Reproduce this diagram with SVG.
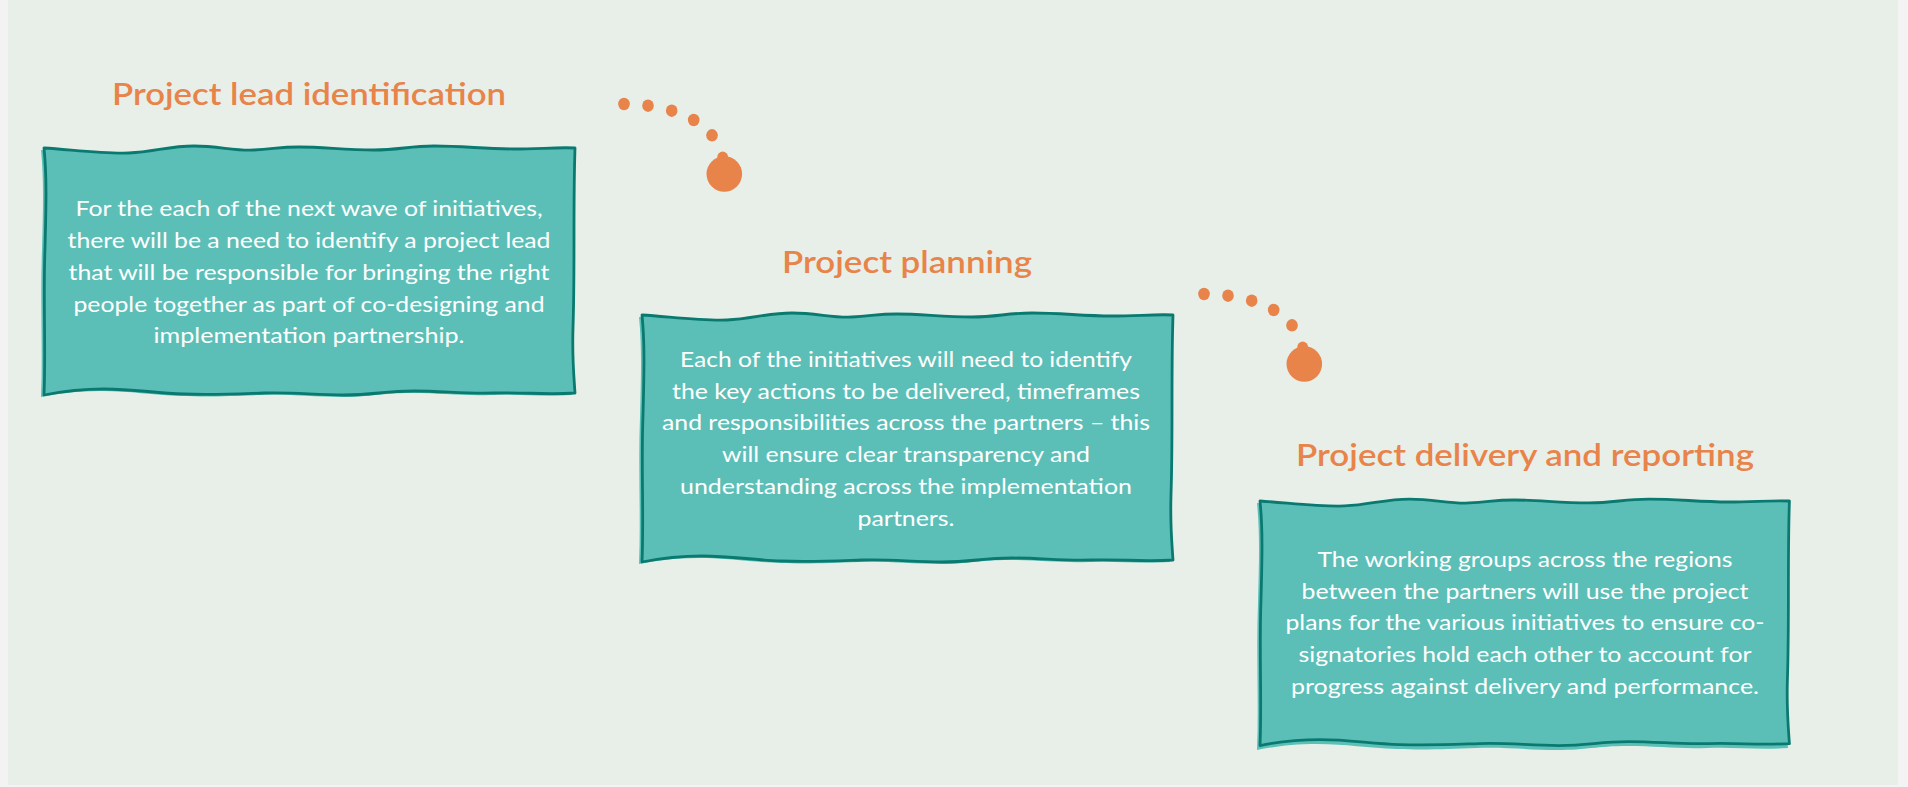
<svg xmlns="http://www.w3.org/2000/svg" xmlns:xlink="http://www.w3.org/1999/xlink" width="1908" height="787" viewBox="0 0 1908 787">
  <style>
    .title { font-family: Lato, "Open Sans", "Liberation Sans", sans-serif; font-size: 31px; font-weight: 600; fill: #e8834a; text-anchor: middle; }
    .body { font-family: Lato, "Open Sans", "Liberation Sans", sans-serif; font-size: 21px; font-weight: 400; fill: #ffffff; text-anchor: middle; }
    .boxfill { fill: #5dc0b8; }
    .boxline { fill: #5cbfb7; stroke: #0a7a70; stroke-width: 2.8; stroke-linejoin: round; }
    .dot { fill: #e8834a; }
  </style>
  <defs>
    <path id="wavy" d="M0,0 C30,2 60,6 85,5 C110,4 125,-2 150,-2 C175,-2 190,3 210,2 C230,1 235,-1 255,-1 C280,-1 300,2 330,2 C355,2 365,-2 390,-2 C420,-2 440,1 470,1 C495,1 515,-1 531,0 C529,60 531,120 529,180 C528,210 530,230 531,245 C500,247 480,244 450,245 C420,246 400,243 370,243 C340,243 330,247 300,247 C270,247 250,244 220,245 C190,246 170,247 140,246 C110,245 90,241 60,241 C35,241 15,244 0,247 C2,200 -1,150 1,100 C2,60 3,30 0,0 Z"/>
    <g id="dotchain">
      <ellipse class="dot" cx="624" cy="104" rx="5.8" ry="6.2"/>
      <ellipse class="dot" cx="648" cy="105.7" rx="5.8" ry="6.2"/>
      <ellipse class="dot" cx="671.7" cy="110.7" rx="5.8" ry="6.2"/>
      <ellipse class="dot" cx="693.7" cy="120" rx="5.8" ry="6.2"/>
      <ellipse class="dot" cx="712" cy="135.3" rx="5.8" ry="6.2"/>
      <circle class="dot" cx="722.7" cy="157" r="5.4"/>
      <circle class="dot" cx="724.3" cy="174" r="17.8"/>
    </g>
  </defs>

  <rect x="0" y="0" width="1908" height="787" fill="#f3f3f3"/>
  <rect x="8" y="0" width="1890" height="785" fill="#e8efe8"/>

  <g id="connectors">
    <use xlink:href="#dotchain"/>
    <use xlink:href="#dotchain" transform="translate(580,190)"/>
  </g>

  <g id="node-lead">
    <text class="title" x="309" y="105" textLength="394" lengthAdjust="spacingAndGlyphs">Project lead identification</text>
    <g transform="translate(44,148)">
      <use xlink:href="#wavy" class="boxfill" transform="translate(-3,2)"/>
      <use xlink:href="#wavy" class="boxline"/>
    </g>
    <text class="body" x="309" y="216" textLength="467" lengthAdjust="spacingAndGlyphs">For the each of the next wave of initiatives,</text>
    <text class="body" x="309" y="248" textLength="483" lengthAdjust="spacingAndGlyphs">there will be a need to identify a project lead</text>
    <text class="body" x="309" y="280" textLength="481" lengthAdjust="spacingAndGlyphs">that will be responsible for bringing the right</text>
    <text class="body" x="309" y="312" textLength="471" lengthAdjust="spacingAndGlyphs">people together as part of co-designing and</text>
    <text class="body" x="309" y="343" textLength="311" lengthAdjust="spacingAndGlyphs">implementation partnership.</text>
  </g>

  <g id="node-planning">
    <text class="title" x="907" y="273" textLength="250" lengthAdjust="spacingAndGlyphs">Project planning</text>
    <g transform="translate(642,315)">
      <use xlink:href="#wavy" class="boxfill" transform="translate(-3,2)"/>
      <use xlink:href="#wavy" class="boxline"/>
    </g>
    <text class="body" x="906" y="367" textLength="452" lengthAdjust="spacingAndGlyphs">Each of the initiatives will need to identify</text>
    <text class="body" x="906" y="399" textLength="468" lengthAdjust="spacingAndGlyphs">the key actions to be delivered, timeframes</text>
    <text class="body" x="906" y="430" textLength="488" lengthAdjust="spacingAndGlyphs">and responsibilities across the partners – this</text>
    <text class="body" x="906" y="462" textLength="368" lengthAdjust="spacingAndGlyphs">will ensure clear transparency and</text>
    <text class="body" x="906" y="494" textLength="452" lengthAdjust="spacingAndGlyphs">understanding across the implementation</text>
    <text class="body" x="906" y="526" textLength="97" lengthAdjust="spacingAndGlyphs">partners.</text>
  </g>

  <g id="node-delivery">
    <text class="title" x="1525" y="466" textLength="458" lengthAdjust="spacingAndGlyphs">Project delivery and reporting</text>
    <g transform="translate(1260,501)">
      <use xlink:href="#wavy" class="boxfill" transform="translate(-3,2)"/>
      <use xlink:href="#wavy" class="boxline" transform="scale(0.997,0.99)"/>
    </g>
    <text class="body" x="1525" y="567" textLength="415" lengthAdjust="spacingAndGlyphs">The working groups across the regions</text>
    <text class="body" x="1525" y="599" textLength="447" lengthAdjust="spacingAndGlyphs">between the partners will use the project</text>
    <text class="body" x="1525" y="630" textLength="479" lengthAdjust="spacingAndGlyphs">plans for the various initiatives to ensure co-</text>
    <text class="body" x="1525" y="662" textLength="453" lengthAdjust="spacingAndGlyphs">signatories hold each other to account for</text>
    <text class="body" x="1525" y="694" textLength="468" lengthAdjust="spacingAndGlyphs">progress against delivery and performance.</text>
  </g>
</svg>
